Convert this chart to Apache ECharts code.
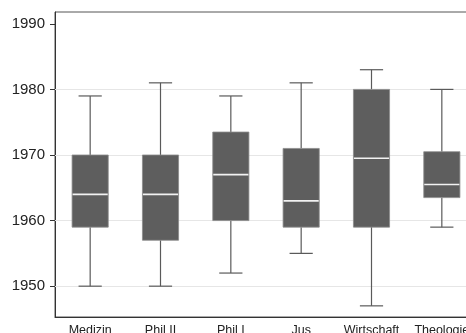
<!DOCTYPE html>
<html>
<head>
<meta charset="utf-8">
<script src="https://cdn.jsdelivr.net/npm/echarts@6/dist/echarts.min.js"></script>
<style>
html,body{margin:0;padding:0;background:#fff;}
#c{width:466px;height:333px;}
</style>
</head>
<body>
<div id="c"></div>
<script>
const categories = ['Medizin', 'Phil II', 'Phil I', 'Jus', 'Wirtschaft', 'Theologie'];
const lowWhisker = [1950, 1950, 1952, 1955, 1947, 1959];
const q1 = [1959, 1957, 1960, 1959, 1959, 1963.5];
const median = [1964, 1964, 1967, 1963, 1969.5, 1965.5];
const q3 = [1970, 1970, 1973.5, 1971, 1980, 1970.5];
const highWhisker = [1979, 1981, 1979, 1981, 1983, 1980];
const yTicks = [1950, 1960, 1970, 1980, 1990];
const gridValues = [1950, 1960, 1970, 1980];

const data = categories.map((c, i) => [i, lowWhisker[i], q1[i], median[i], q3[i], highWhisker[i]]);

const chart = echarts.init(document.getElementById('c'), null, {renderer: 'canvas'});

function renderItem(params, api) {
  const idx = api.value(0);
  const band = api.size([1, 0])[0];
  const boxW = band * 0.514;
  const capW = band * 0.33;
  const pLow = api.coord([idx, api.value(1)]);
  const pQ1 = api.coord([idx, api.value(2)]);
  const pMed = api.coord([idx, api.value(3)]);
  const pQ3 = api.coord([idx, api.value(4)]);
  const pHigh = api.coord([idx, api.value(5)]);
  const x = pQ1[0];
  const wStyle = {stroke: '#5a5a5a', lineWidth: 1.2, fill: null};
  return {
    type: 'group',
    children: [
      {type: 'line', shape: {x1: x, y1: pQ1[1], x2: x, y2: pLow[1]}, style: wStyle},
      {type: 'line', shape: {x1: x, y1: pQ3[1], x2: x, y2: pHigh[1]}, style: wStyle},
      {type: 'line', shape: {x1: x - capW / 2, y1: pLow[1], x2: x + capW / 2, y2: pLow[1]}, style: wStyle},
      {type: 'line', shape: {x1: x - capW / 2, y1: pHigh[1], x2: x + capW / 2, y2: pHigh[1]}, style: wStyle},
      {type: 'rect', shape: {x: x - boxW / 2, y: pQ3[1], width: boxW, height: pQ1[1] - pQ3[1]},
        style: {fill: '#5e5e5e', stroke: '#8c8c8c', lineWidth: 0.8}},
      {type: 'line', shape: {x1: x - boxW / 2 + 0.5, y1: pMed[1], x2: x + boxW / 2 - 0.5, y2: pMed[1]},
        style: {stroke: '#f2f2f2', lineWidth: 1.6}}
    ]
  };
}

chart.setOption({
  animation: false,
  backgroundColor: '#fff',
  textStyle: {fontFamily: 'Liberation Sans, Arial, sans-serif'},
  grid: {left: 55, top: 12, width: 422, height: 305, outerBoundsMode: 'none', containLabel: false,
    show: true, borderColor: '#555', borderWidth: 1, backgroundColor: 'transparent'},
  xAxis: {
    type: 'category',
    data: categories,
    boundaryGap: true,
    axisLine: {lineStyle: {color: '#333', width: 1}},
    axisTick: {show: false},
    axisLabel: {fontSize: 12.5, color: '#222', margin: 7, interval: 0, hideOverlap: false, fontFamily: 'Liberation Sans, Arial, sans-serif'},
    splitLine: {show: false}
  },
  yAxis: {
    type: 'value',
    min: 1945.3,
    max: 1991.8,
    axisLine: {show: true, lineStyle: {color: '#333', width: 1}},
    axisTick: {show: true, length: 5, lineStyle: {color: '#333'}, customValues: yTicks},
    axisLabel: {fontSize: 15, color: '#222', margin: 10, customValues: yTicks, formatter: v => String(v),
      fontFamily: 'Liberation Sans, Arial, sans-serif'},
    splitLine: {show: false}
  },
  series: [{
    type: 'custom',
    renderItem: renderItem,
    data: data,
    encode: {x: 0, y: [1, 2, 3, 4, 5]},
    clip: false,
    z: 3,
    markLine: {
      silent: true,
      symbol: 'none',
      label: {show: false},
      lineStyle: {color: '#e6e6e6', width: 1.2, type: 'solid'},
      z: 1,
      data: gridValues.map(v => ({yAxis: v}))
    }
  }]
});
</script>
</body>
</html>
